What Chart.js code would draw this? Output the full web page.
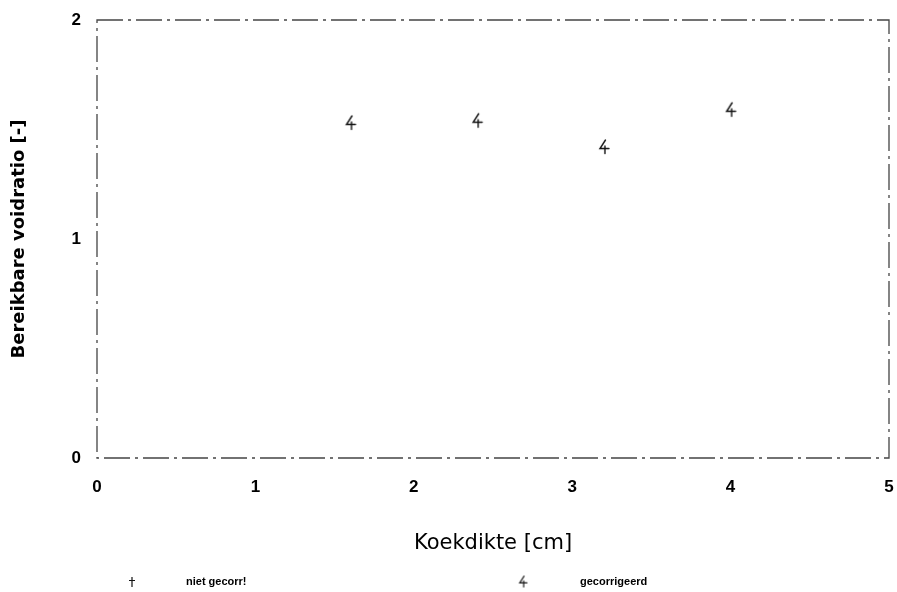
<!DOCTYPE html>
<html>
<head>
<meta charset="utf-8">
<script src="https://cdn.jsdelivr.net/npm/chart.js@4.4.1/dist/chart.umd.min.js"></script>
<style>
  html, body { margin: 0; padding: 0; background: #fff; }
  #wrap { width: 897px; height: 592px; }
</style>
</head>
<body>
<div id="wrap"><canvas id="chart-1"></canvas></div>
<script>
// values
const thickness = [1.6, 2.4, 3.2, 4.0];        // Koekdikte [cm]
const corrected = [1.53, 1.54, 1.42, 1.59];    // gecorrigeerd
const uncorrected = [];                        // niet gecorr! (no marks visible)
const xTicks = [0, 1, 2, 3, 4, 5];
const yTicks = [0, 1, 2];
const seriesNames = ['niet gecorr!', 'gecorrigeerd'];

// little hand-drawn "4" marker like the plotter used
function glyphFour(s) {
  const c = document.createElement('canvas');
  c.width = Math.ceil(16 * s); c.height = Math.ceil(18 * s);
  const g = c.getContext('2d');
  g.scale(s, s);
  g.strokeStyle = '#111';
  g.lineWidth = 1.4;
  g.lineCap = 'round';
  g.beginPath();
  g.moveTo(9.5, 2); g.lineTo(4, 10.5); g.lineTo(13, 10.5);
  g.moveTo(9, 8); g.lineTo(9, 15.5);
  g.stroke();
  return c;
}
function glyphPlus() {
  const c = document.createElement('canvas');
  c.width = 10; c.height = 12;
  const g = c.getContext('2d');
  g.strokeStyle = '#111';
  g.lineWidth = 1.2;
  g.beginPath();
  g.moveTo(5, 1); g.lineTo(5, 11);
  g.moveTo(2, 4.5); g.lineTo(8, 4.5);
  g.stroke();
  return c;
}

const fourMark = glyphFour(1);
const fourSmall = glyphFour(0.8);
const plusMark = glyphPlus();

// dash-dot frame round the plot area (scale borders can't be dashed)
const frame = {
  id: 'frame',
  beforeDatasetsDraw(chart) {
    const { ctx, chartArea: a } = chart;
    ctx.save();
    ctx.strokeStyle = '#444';
    ctx.lineWidth = 1.3;
    ctx.setLineDash([26, 5, 3, 5]);
    ctx.strokeRect(a.left, a.top, a.right - a.left, a.bottom - a.top);
    ctx.restore();
  }
};

// legend along the bottom, spaced like the original
const bottomLegend = {
  id: 'bottomLegend',
  afterDraw(chart) {
    const ctx = chart.ctx;
    const items = [
      { mark: plusMark, mx: 132, tx: 186 },
      { mark: fourSmall, mx: 523, tx: 580 }
    ];
    const y = 582;
    ctx.save();
    ctx.font = 'bold 11px "Liberation Sans", Arial, sans-serif';
    ctx.fillStyle = '#000';
    ctx.textBaseline = 'middle';
    chart.data.datasets.forEach((ds, i) => {
      const it = items[i];
      ctx.drawImage(it.mark, it.mx - it.mark.width / 2, y - it.mark.height / 2);
      ctx.fillText(ds.label, it.tx, y);
    });
    ctx.restore();
  }
};

const ctx = document.getElementById('chart-1');

new Chart(ctx, {
  type: 'scatter',
  data: {
    datasets: [{
      label: seriesNames[0],
      data: uncorrected.map((v, i) => ({ x: thickness[i], y: v })),
      pointStyle: plusMark,
      showLine: false
    }, {
      label: seriesNames[1],
      data: corrected.map((v, i) => ({ x: thickness[i], y: v })),
      pointStyle: fourMark,
      showLine: false
    }]
  },
  options: {
    responsive: true,
    maintainAspectRatio: false,
    animation: false,
    layout: { padding: { top: 20, right: 8, left: 0, bottom: 0 } },
    plugins: {
      legend: { display: false },
      tooltip: { enabled: false }
    },
    scales: {
      x: {
        type: 'linear',
        position: 'bottom',
        min: 0,
        max: 5,
        afterBuildTicks: s => { s.ticks = xTicks.map(v => ({ value: v })); },
        afterFit: s => { s.height = 134; s.paddingLeft = 0; s.paddingRight = 0; },
        grid: { display: false, drawTicks: false },
        border: { display: false },
        ticks: {
          padding: 19,
          color: '#000',
          font: { family: '"Liberation Sans", Arial, sans-serif', size: 17, weight: 'bold' }
        },
        title: {
          display: true,
          text: 'Koekdikte [cm]',
          color: '#000',
          padding: { top: 0, bottom: 36 },
          font: { family: '"DejaVu Sans", sans-serif', size: 21 }
        }
      },
      y: {
        type: 'linear',
        position: 'left',
        min: 0,
        max: 2,
        afterBuildTicks: s => { s.ticks = yTicks.map(v => ({ value: v })); },
        afterFit: s => { s.width = 97; s.paddingTop = 0; s.paddingBottom = 0; },
        grid: { display: false, drawTicks: false },
        border: { display: false },
        ticks: {
          padding: 16,
          color: '#000',
          font: { family: '"Liberation Sans", Arial, sans-serif', size: 17, weight: 'bold' }
        },
        title: {
          display: true,
          text: 'Bereikbare voidratio [-]',
          color: '#000',
          padding: { top: 9, bottom: 0 },
          font: { family: '"DejaVu Sans", sans-serif', size: 18, weight: 'bold' }
        }
      }
    }
  },
  plugins: [frame, bottomLegend]
});
</script>
</body>
</html>
